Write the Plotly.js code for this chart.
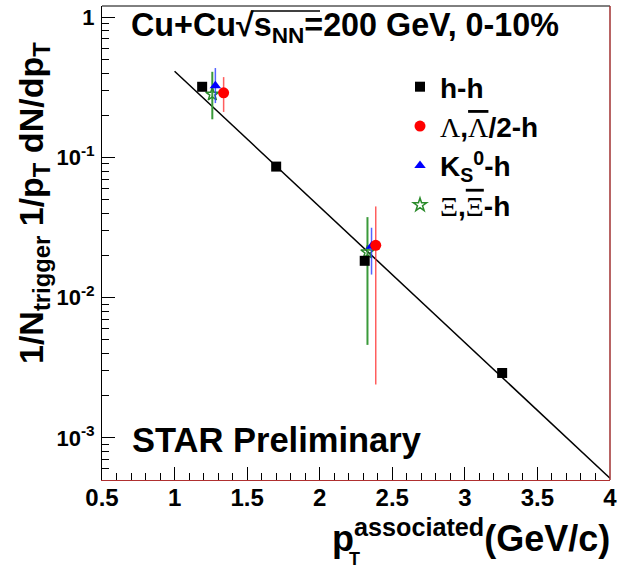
<!DOCTYPE html>
<html><head><meta charset="utf-8">
<script src="https://cdn.plot.ly/plotly-3.0.1.min.js"></script>
<style>html,body{margin:0;padding:0;background:#fff}</style>
</head><body><div id="chart" style="width:619px;height:569px"></div>
<script>
// ---- data ----
const hhX = [1.19, 1.70, 2.31, 3.257];
const hhY = [0.319, 0.086, 0.0183, 0.0029];
const hhErr = [0.015, 0.005, 0.0012, 0.0002];

const lamX = [1.338, 2.386];
const lamY = [0.289, 0.0236];
const lamErrPlus = [0.085, 0.0211];
const lamErrMinus = [0.078, 0.0212];

const k0X = [1.281, 2.357];
const k0Y = [0.324, 0.0232];
const k0ErrPlus = [0.11, 0.0083];
const k0ErrMinus = [0.08, 0.0086];

const xiX = [1.26, 2.329];
const xiY = [0.282, 0.0211];
const xiErrPlus = [0.126, 0.0164];
const xiErrMinus = [0.095, 0.0165];

const fitX = [1.0, 4.0];
const fitY = [0.412, 0.000515];

const xTickVals = [0.5, 1, 1.5, 2, 2.5, 3, 3.5, 4];
const xTickText = ["0.5", "1", "1.5", "2", "2.5", "3", "3.5", "4"];
const yTickVals = [0.001, 0.01, 0.1, 1];
const yTickText = ["10<sup>-3</sup>", "10<sup>-2</sup>", "10<sup>-1</sup>", "1"];

const SERIF = "font-family:Liberation Serif,DejaVu Serif,serif;font-weight:400";
const seriesNames = [
  "h-h",
  "<span style='" + SERIF + "'>Λ</span>,<span style='" + SERIF + ";text-decoration:overline'>Λ</span>/2-h",
  "K<sub>S</sub><sup>0</sup>-h",
  "<span style='" + SERIF + "'>Ξ</span>,<span style='" + SERIF + ";text-decoration:overline'>Ξ</span>-h"
];

// ---- layout helpers (pixel -> paper) ----
const W = 619, H = 569, ML = 102, MR = 9, MT = 6, MB = 89;
const PW = W - ML - MR, PH = H - MT - MB;
const px = x => (x - ML) / PW;
const py = y => 1 - (y - MT) / PH;

const FONT = "Liberation Sans, Arial, Helvetica, sans-serif";

// minor tick positions
const xMinor = [];
for (let i = 5; i <= 40; i++) if (i % 5 !== 0) xMinor.push(i / 10);
const yMinor = [];
for (let e = -4; e <= 0; e++) for (let m = 2; m <= 9; m++) yMinor.push(m * Math.pow(10, e));

const traces = [
  {
    x: fitX, y: fitY, mode: "lines", type: "scatter",
    line: {color: "black", width: 1.5}, showlegend: false, hoverinfo: "skip"
  },
  {
    x: xiX, y: xiY, mode: "markers", type: "scatter", name: seriesNames[3],
    marker: {symbol: "star-open", size: 10, color: "#2a8a2a", line: {width: 1.5, color: "#2a8a2a"}},
    error_y: {type: "data", symmetric: false, array: xiErrPlus, arrayminus: xiErrMinus,
      color: "#3a9a3a", thickness: 2, width: 0}
  },
  {
    x: k0X, y: k0Y, mode: "markers", type: "scatter", name: seriesNames[2],
    marker: {symbol: "triangle-up", size: 10, color: "#0000ff"},
    error_y: {type: "data", symmetric: false, array: k0ErrPlus, arrayminus: k0ErrMinus,
      color: "rgba(40,60,255,0.8)", thickness: 1.5, width: 0}
  },
  {
    x: lamX, y: lamY, mode: "markers", type: "scatter", name: seriesNames[1],
    marker: {symbol: "circle", size: 11, color: "#ff0000"},
    error_y: {type: "data", symmetric: false, array: lamErrPlus, arrayminus: lamErrMinus,
      color: "rgba(255,40,40,0.75)", thickness: 1.5, width: 0}
  },
  {
    x: hhX, y: hhY, mode: "markers", type: "scatter", name: seriesNames[0],
    marker: {symbol: "square", size: 10, color: "#000000"},
    error_y: {type: "data", array: hhErr, color: "#555", thickness: 1, width: 0}
  }
];

const layout = {
  width: W, height: H,
  margin: {l: ML, r: MR, t: MT, b: MB, pad: 0},
  paper_bgcolor: "#fff", plot_bgcolor: "#fff",
  font: {family: FONT, color: "#000", size: 22, weight: 700},
  showlegend: true,
  legend: {
    x: px(400), y: py(62), xanchor: "left", yanchor: "top",
    bgcolor: "rgba(0,0,0,0)", borderwidth: 0,
    font: {family: FONT, size: 28, weight: 700, color: "#000"},
    traceorder: "reversed", itemwidth: 30, tracegroupgap: 0
  },
  xaxis: {
    type: "linear", range: [0.5, 4],
    tickmode: "array", tickvals: xTickVals, ticktext: xTickText,
    ticks: "inside", ticklen: 13, tickwidth: 1, tickcolor: "#000",
    minor: {tickmode: "array", tickvals: xMinor, ticks: "inside", ticklen: 7, tickwidth: 1, tickcolor: "#000"},
    showline: true, linecolor: "#b03030", linewidth: 1, mirror: false,
    showgrid: false, zeroline: false,
    tickfont: {family: FONT, size: 24, weight: 700},
    ticklabelstandoff: -4
  },
  yaxis: {
    type: "log", range: [Math.log10(0.0005), 0.08],
    tickmode: "array", tickvals: yTickVals, ticktext: yTickText,
    ticks: "inside", ticklen: 13, tickwidth: 1, tickcolor: "#000",
    minor: {tickmode: "array", tickvals: yMinor, ticks: "inside", ticklen: 7, tickwidth: 1, tickcolor: "#000"},
    showline: true, linecolor: "#000", linewidth: 1, mirror: false,
    showgrid: false, zeroline: false,
    tickfont: {family: FONT, size: 22, weight: 700},
    ticklabelstandoff: 2
  },
  shapes: [
    {type: "line", xref: "paper", yref: "paper", x0: 0, x1: 1, y0: 1, y1: 1, line: {color: "#000", width: 1}},
    {type: "line", xref: "paper", yref: "paper", x0: 1, x1: 1, y0: 0, y1: 1, line: {color: "#a03030", width: 1.5}},
    {type: "line", xref: "paper", yref: "paper", x0: px(251), x1: px(320), y0: py(11), y1: py(11), line: {color: "#000", width: 1.5}}
  ],
  annotations: [
    {text: "Cu+Cu√s<sub>NN</sub>=200 GeV, 0-10%", xref: "paper", yref: "paper",
     x: px(129), y: py(27), xanchor: "left", yanchor: "middle", showarrow: false,
     font: {family: FONT, size: 32.3, weight: 700}},
    {text: "STAR Preliminary", xref: "paper", yref: "paper",
     x: px(130), y: py(440), xanchor: "left", yanchor: "middle", showarrow: false,
     font: {family: FONT, size: 34.5, weight: 700}},
    {text: "1/N<sub>trigger</sub> 1/p<sub>T</sub> dN/dp<sub>T</sub>", xref: "paper", yref: "paper",
     x: px(34), y: py(203), xanchor: "center", yanchor: "middle", textangle: -90, showarrow: false,
     font: {family: FONT, size: 34, weight: 700}},
    {text: "p<sup>associated</sup>(GeV/c)", xref: "paper", yref: "paper",
     x: px(612), y: py(536), xanchor: "right", yanchor: "middle", showarrow: false,
     font: {family: FONT, size: 36, weight: 700}},
    {text: "T", xref: "paper", yref: "paper",
     x: px(347), y: py(559), xanchor: "left", yanchor: "middle", showarrow: false,
     font: {family: FONT, size: 18, weight: 700}}
  ]
};

Plotly.newPlot("chart", traces, layout, {displayModeBar: false, staticPlot: true});
</script>
</body></html>
